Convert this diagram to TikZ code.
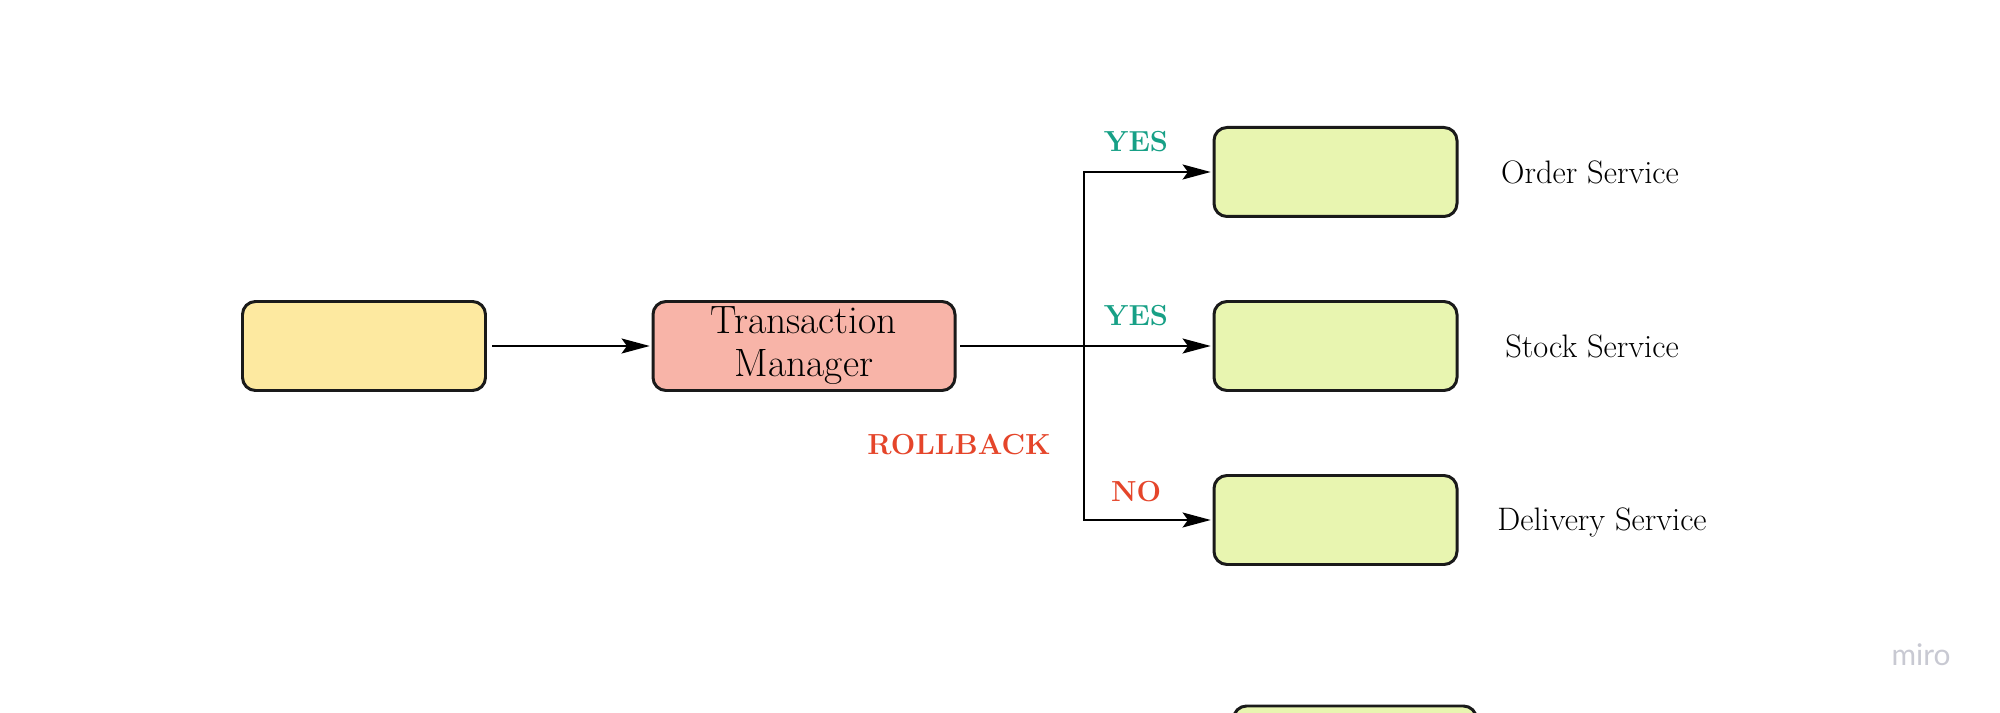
\documentclass[tikz,border=0pt]{standalone}
\usepackage{fontspec}
\usepackage{tikz}
\usetikzlibrary{arrows.meta}
\newfontfamily\mirofont{Lato}
\definecolor{srcfill}{HTML}{FDE9A0}
\definecolor{tmfill}{HTML}{F8B4A8}
\definecolor{svcfill}{HTML}{E8F5B0}
\definecolor{yescol}{HTML}{17A086}
\definecolor{nocol}{HTML}{E5452A}
\definecolor{edge}{HTML}{1A1A1A}
\definecolor{mirogray}{HTML}{C8C9D2}
\tikzset{
  box/.style={draw=edge,line width=1.7pt,rounded corners=0.26cm,minimum width=4.86cm,minimum height=1.78cm,inner sep=0pt,align=center},
  srcbox/.style={box,fill=srcfill},
  tmbox/.style={box,fill=tmfill,minimum width=6.04cm,font=\fontsize{22.5}{24.5}\selectfont},
  svcbox/.style={box,fill=svcfill},
  arr/.style={line width=1.3pt,-{Stealth[length=16pt,width=8.5pt,inset=3pt]},shorten >=1pt},
  lbl/.style={font=\bfseries\fontsize{16.5}{19}\selectfont},
  svclbl/.style={font=\fontsize{18.5}{21}\selectfont}
}

\begin{document}
\begin{tikzpicture}
\clip[use as bounding box] (0,0) rectangle (40,14.26);
\fill[white] (0,0) rectangle (40,14.26);
% boxes
\node[srcbox] (src) at (7.28,7.34) {};
\node[tmbox] (tm) at (16.08,7.34) {Transaction\\Manager};
\node[svcbox] (order) at (26.71,10.82) {};
\node[svcbox] (stock) at (26.71,7.34) {};
\node[svcbox] (delivery) at (26.71,3.86) {};
\node[svcbox] (next) at (27.1,-0.75) {};
\coordinate (j) at (21.68,7.34);
% connectors
\draw[arr,shorten <=3pt] (src) -- (tm);
\draw[line width=1.3pt,shorten <=2pt] (tm) -- (j);
\draw[arr] (j) |- (order);
\draw[arr] (j) -- (stock);
\draw[arr] (j) |- (delivery);
% labels
\node[lbl,text=yescol] (yes1) at (22.72,11.42) {YES};
\node[lbl,text=yescol] (yes2) at (22.72,7.94) {YES};
\node[lbl,text=nocol] (no) at (22.72,4.42) {NO};
\node[lbl,text=nocol] (rollback) at (19.18,5.36) {ROLLBACK};
\node[lbl,text=yescol,anchor=north] (yes3) at (23.04,0.08) {YES};
\node[svclbl] (orderlbl) at (31.8,10.82) {Order Service};
\node[svclbl] (stocklbl) at (31.84,7.34) {Stock Service};
\node[svclbl] (deliverylbl) at (32.04,3.82) {Delivery Service};
\node[font=\mirofont\fontsize{17}{20}\selectfont,text=mirogray] (miro) at (38.42,1.16) {miro};
\end{tikzpicture}
\end{document}
